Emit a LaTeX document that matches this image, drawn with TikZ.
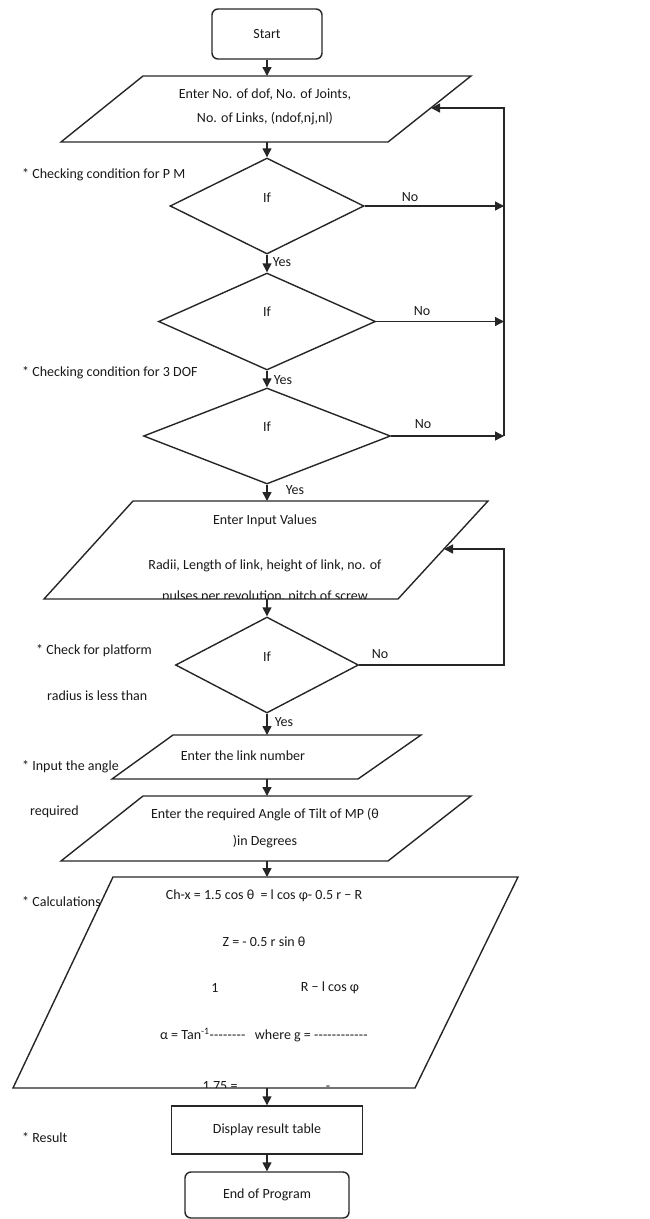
\documentclass[tikz,border=0pt]{standalone}
\usepackage{fontspec}
\setmainfont{Carlito}
\usetikzlibrary{arrows.meta,shapes.geometric}
\newcommand\hh{-\kern0.2pt}
\begin{document}
\begin{tikzpicture}[x=1pt,y=-1pt,
  box/.style={draw=black!85, line width=1.4pt, inner sep=0pt},
  dia/.style={box, diamond, shape aspect=2},
  para/.style={draw=black!85, line width=1.4pt, line join=miter},
  arr/.style={-{Triangle[length=9pt,width=9pt]}, line width=1.4pt, draw=black!85},
  txt/.style={font=\fontsize{14}{17}\selectfont, inner sep=0pt, text=black!90},
  note/.style={txt, anchor=west}]
\useasboundingbox (0,0) rectangle (650,1219);

% Start
\node[box, rounded corners=6pt, minimum width=110pt, minimum height=50pt, txt] (start) at (267,34) {Start};

% Parallelogram 1
\draw[para] (143,76) -- (471,76) -- (388,142) -- (61,142) -- cycle;
\coordinate (p1t) at (267,76);
\coordinate (p1b) at (267,142);
\coordinate (p1r) at (431,108);
\node[txt] (p1a) at (265,95) {Enter No. of dof, No. of Joints,};
\node[txt] (p1c) at (265,119) {No. of Links, (ndof,nj,nl)};

% Diamonds
\node[dia, minimum width=194pt, minimum height=96pt] (d1) at (267,206) {};
\node[dia, minimum width=217pt, minimum height=97pt] (d2) at (267,321.5) {};
\node[dia, minimum width=247pt, minimum height=96pt] (d3) at (267,436) {};
\node[txt] (if1) at (267,198) {If};
\node[txt] (if2) at (267,312) {If};
\node[txt] (if3) at (267,427) {If};

% Parallelogram 2
\draw[para] (133,501) -- (488,501) -- (398,599) -- (44,599) -- cycle;
\coordinate (p2t) at (267,501);
\coordinate (p2b) at (267,599);
\coordinate (p2r) at (444,549);
\node[txt] (p2a) at (265,521) {Enter Input Values};
\node[txt] (p2c) at (265,566) {Radii, Length of link, height of link, no. of};
\begin{scope}
\clip (0,0) rectangle (650,598);
\node[txt, anchor=base] (p2d) at (265,600) {pulses per revolution, pitch of screw};
\end{scope}

% Diamond 4
\node[dia, minimum width=183pt, minimum height=96pt] (d4) at (267,665) {};
\node[txt] (if4) at (267,657) {If};

% Parallelogram 3
\draw[para] (173,735) -- (421,735) -- (358,779) -- (112,779) -- cycle;
\coordinate (p3t) at (267,735);
\coordinate (p3b) at (267,779);
\node[txt] (p3a) at (243,756) {Enter the link number};

% Parallelogram 4
\draw[para] (143,796) -- (471,796) -- (388,861) -- (61,861) -- cycle;
\coordinate (p4t) at (267,796);
\coordinate (p4b) at (267,861);
\node[txt] (p4a) at (265,815) {Enter the required Angle of Tilt of MP (θ};
\node[txt] (p4c) at (265,842) {)in Degrees};

% Parallelogram 5
\draw[para] (113,877) -- (518,877) -- (415,1088) -- (13,1088) -- cycle;
\coordinate (p5t) at (267,877);
\coordinate (p5b) at (267,1088);
\node[txt] (c1) at (264,896) {Ch-x = 1.5 cos θ\ \ = l cos φ- 0.5 r − R};
\node[txt] (c2) at (264,942) {Z = - 0.5 r sin θ};
\node[txt] (c3a) at (215,988) {1};
\node[txt] (c3b) at (330,988) {R − l cos φ};
\node[txt] (c4) at (264,1035) {α = Tan\textsuperscript{-1}\hh\hh\hh\hh\hh\hh\hh\hh\ \ \ where g = \hh\hh\hh\hh\hh\hh\hh\hh\hh\hh\hh\hh};
\begin{scope}
\clip (0,0) rectangle (650,1087);
\node[txt, anchor=base] (c5a) at (220,1090) {1.75 =};
\node[txt, anchor=base] (c5b) at (328,1090) {-};
\end{scope}

% Display and End
\node[box, minimum width=191pt, minimum height=48pt, txt] (disp) at (267,1130) {Display result table};
\node[box, rounded corners=6pt, minimum width=164pt, minimum height=46pt, txt] (end) at (267,1195) {End of Program};

% Main arrows
\draw[arr] (start.south) -- (p1t);
\draw[arr] (p1b) -- (d1.north);
\draw[arr] (d1.south) -- (d2.north);
\draw[arr] (d2.south) -- (d3.north);
\draw[arr] (d3.south) -- (p2t);
\draw[arr] (p2b) -- (d4.north);
\draw[arr] (d4.south) -- (p3t);
\draw[arr] (p3b) -- (p4t);
\draw[arr] (p4b) -- (p5t);
\draw[arr] (p5b) -- (disp.north);
\draw[arr] (disp.south) -- (end.north);

% Loop 1
\coordinate (r1) at (504,206);
\coordinate (r2) at (504,321.5);
\coordinate (r3) at (504,436);
\coordinate (rtop) at (504,108);
\draw[arr] (d1.east) -- (r1);
\draw[arr] (d2.east) -- (r2);
\draw[arr] (d3.east) -- (r3);
\draw[arr] (r3) -- (rtop) -- (p1r);

% Loop 2
\coordinate (r4) at (504,665);
\coordinate (r4top) at (504,549);
\draw[arr] (d4.east) -- (r4) -- (r4top) -- (p2r);

% Yes / No labels
\node[txt] (y1) at (282,262) {Yes};
\node[txt] (y2) at (283,380) {Yes};
\node[txt] (y3) at (295,490) {Yes};
\node[txt] (y4) at (284,722) {Yes};
\node[txt] (n1) at (410,197) {No};
\node[txt] (n2) at (422,311) {No};
\node[txt] (n3) at (423,424) {No};
\node[txt] (n4) at (380,654) {No};

% Side notes
\node[note] (s1) at (22,175) {* Checking condition for P M};
\node[note] (s2) at (22,373) {* Checking condition for 3 DOF};
\node[note] (s3) at (36,651) {* Check for platform};
\node[note] (s4) at (47,696) {radius is less than};
\node[note] (s5) at (22,767) {* Input the angle};
\node[note] (s6) at (30,812) {required};
\node[note] (s7) at (22,902) {* Calculations};
\node[note] (s8) at (22,1138) {* Result};
\end{tikzpicture}
\end{document}
